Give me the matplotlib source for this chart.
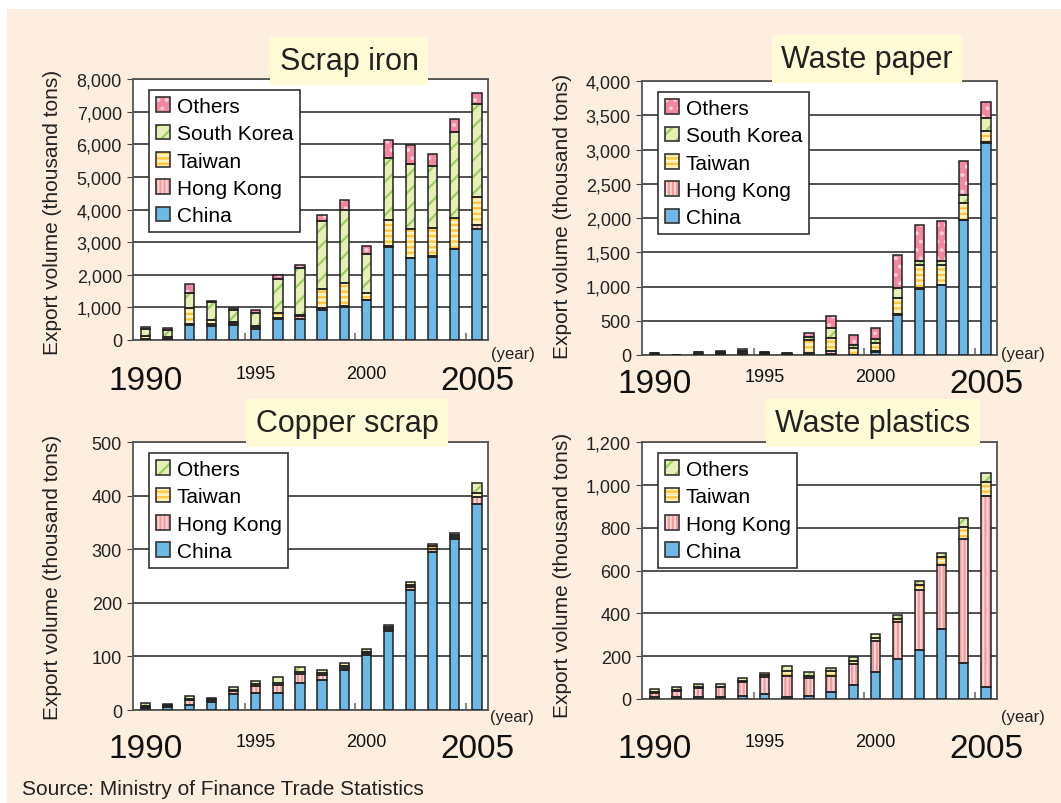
import matplotlib
matplotlib.use("Agg")
import matplotlib.pyplot as plt
from matplotlib.patches import Patch, Rectangle
from matplotlib.ticker import FuncFormatter

plt.rcParams['font.family'] = ['Liberation Sans', 'DejaVu Sans']
plt.rcParams['hatch.linewidth'] = 1.6

years = list(range(1990, 2006))

# Scrap iron (thousand tons)
iron_china = [10, 20, 450, 430, 450, 330, 630, 630, 920, 1020, 1220, 2860, 2500, 2550, 2780, 3410]
iron_hk = [10, 20, 50, 50, 80, 80, 50, 100, 50, 20, 20, 20, 20, 20, 20, 100]
iron_tw = [90, 40, 480, 130, 30, 20, 150, 50, 580, 710, 200, 790, 890, 860, 940, 880]
iron_sk = [230, 230, 450, 550, 360, 410, 1040, 1430, 2090, 2240, 1200, 1920, 1990, 1900, 2640, 2830]
iron_oth = [60, 50, 280, 30, 60, 80, 130, 100, 180, 310, 255, 540, 590, 360, 380, 360]

# Waste paper
paper_china = [5, 0, 0, 0, 0, 5, 5, 5, 20, 5, 50, 582, 961, 1019, 1966, 3097]
paper_hk = [5, 0, 5, 10, 10, 10, 5, 20, 40, 2, 10, 10, 10, 5, 5, 10]
paper_tw = [10, 0, 10, 20, 30, 15, 10, 195, 195, 97, 112, 243, 340, 291, 243, 170]
paper_sk = [5, 0, 30, 10, 20, 10, 5, 50, 145, 40, 63, 136, 58, 63, 126, 184]
paper_oth = [10, 0, 5, 20, 25, 10, 10, 50, 175, 145, 155, 495, 534, 582, 485, 238]

# Copper scrap
copper_china = [4, 6, 10, 15, 29, 32, 32, 51, 56, 75, 102, 147, 224, 294, 319, 384]
copper_hk = [2, 2, 8, 3, 6, 12, 14, 16, 9, 4, 4, 4, 6, 6, 4, 14]
copper_tw = [1, 2, 3, 2, 3, 5, 5, 4, 4, 4, 3, 3, 3, 6, 4, 6]
copper_oth = [6, 1, 6, 3, 5, 5, 10, 10, 6, 4, 4, 4, 6, 3, 4, 20]

# Waste plastics
plastic_china = [11, 11, 10, 10, 16, 23, 11, 16, 34, 65, 124, 187, 229, 327, 166, 58]
plastic_hk = [16, 25, 40, 44, 62, 82, 98, 82, 75, 98, 148, 171, 282, 300, 583, 888]
plastic_tw = [5, 8, 4, 3, 8, 6, 23, 11, 20, 16, 12, 16, 23, 34, 56, 68]
plastic_oth = [16, 14, 16, 11, 11, 12, 20, 16, 16, 16, 19, 19, 16, 23, 39, 39]

# face colour, hatch, hatch colour
styles = {
    "China": ("#6cb8e6", None, "#6cb8e6"),
    "Hong Kong": ("#ffd8d8", "||||", "#f59a9a"),
    "Taiwan": ("#fff2b8", "---", "#ffc43c"),
    "South Korea": ("#e6f0b4", "//", "#9ccc64"),
    "Others_pink": ("#f3879f", "..", "#ffd0dc"),
    "Others_green": ("#e6f0b4", "//", "#9ccc64"),
}

W, H = 1061, 804
fig = plt.figure(figsize=(W / 100, H / 100), dpi=100, facecolor="white")
fig.patches.append(Rectangle((7 / W, 0), 1, 1 - 10 / H, transform=fig.transFigure,
                             facecolor="#fdeee0", edgecolor="none", zorder=-10))


def px_axes(l, t, r, b):
    return fig.add_axes([l / W, 1 - b / H, (r - l) / W, (b - t) / H])


def draw_panel(box, series, ymax, ystep, title, title_xy, leg_xy, ylab_xy, year_xy, xpad):
    ax = px_axes(*box)
    bottom = [0] * len(years)
    handles = []
    for name, key, vals in series:
        fc, hatch, hc = styles[key]
        ax.bar(years, vals, 0.42, bottom=bottom, color=fc, hatch=hatch,
               edgecolor=hc, linewidth=0, zorder=2)
        ax.bar(years, vals, 0.42, bottom=bottom, fill=False,
               edgecolor="#222222", linewidth=1.1, zorder=3)
        bottom = [a + b for a, b in zip(bottom, vals)]
        handles.append((Patch(facecolor=fc, hatch=hatch, edgecolor=hc, linewidth=0),
                        Patch(fill=False, edgecolor="#333333", linewidth=1.2)))
    ax.set_xlim(1989.45, 2005.5)
    ax.set_ylim(0, ymax)
    ax.set_yticks(range(0, ymax + 1, ystep))
    ax.yaxis.set_major_formatter(FuncFormatter(lambda v, p: f"{int(v):,}"))
    ax.tick_params(axis="y", labelsize=13, length=4, pad=4, colors="#444444", labelcolor="#222222")
    ax.yaxis.grid(True, color="#333333", linewidth=1.2)
    ax.set_axisbelow(True)
    ax.set_xticks([1990, 1995, 2000, 2005])
    ax.set_xticklabels(["1990", "1995", "2000", "2005"])
    for lab, fs in zip(ax.get_xticklabels(), [24, 13, 13, 24]):
        lab.set_fontsize(fs)
    ax.tick_params(axis="x", length=0, pad=xpad, labelcolor="#111111")
    ax.set_xticks([1994.5, 1999.5, 2004.5], minor=True)
    ax.tick_params(axis="x", which="minor", direction="in", length=5, width=1.5, colors="#888888")
    for s in ax.spines.values():
        s.set_color("#555555")
        s.set_linewidth(1.3)
    leg = ax.legend(handles[::-1], [s[0] for s in series][::-1], loc="upper left",
                    bbox_to_anchor=(leg_xy[0] / W, 1 - leg_xy[1] / H),
                    bbox_transform=fig.transFigure, borderaxespad=0, fontsize=15,
                    fancybox=False, framealpha=1, edgecolor="#333333",
                    handlelength=0.7, handleheight=0.7, handletextpad=0.3,
                    labelspacing=0.4, borderpad=0.33)
    leg.get_frame().set_linewidth(1.2)
    fig.text(title_xy[0] / W, 1 - title_xy[1] / H, title, fontsize=22, ha="center",
             va="center", color="#222222",
             bbox=dict(boxstyle="square,pad=0.3", facecolor="#fffbd6", edgecolor="none"))
    fig.text(ylab_xy[0] / W, 1 - ylab_xy[1] / H, "Export volume (thousand tons)",
             rotation=90, fontsize=15, ha="center", va="center", color="#222222")
    fig.text(year_xy[0] / W, 1 - year_xy[1] / H, "(year)", fontsize=12,
             ha="left", va="center", color="#222222")
    return ax


draw_panel((133, 80, 488, 341),
           [("China", "China", iron_china), ("Hong Kong", "Hong Kong", iron_hk),
            ("Taiwan", "Taiwan", iron_tw), ("South Korea", "South Korea", iron_sk),
            ("Others", "Others_pink", iron_oth)],
           8000, 1000, "Scrap iron", (349, 62), (149, 91), (53, 212), (491, 355), 18)

draw_panel((642, 82, 997, 356),
           [("China", "China", paper_china), ("Hong Kong", "Hong Kong", paper_hk),
            ("Taiwan", "Taiwan", paper_tw), ("South Korea", "South Korea", paper_sk),
            ("Others", "Others_pink", paper_oth)],
           4000, 500, "Waste paper", (867, 60), (658, 93), (562, 216), (1001, 355), 9.5)

draw_panel((133, 443, 488, 711),
           [("China", "China", copper_china), ("Hong Kong", "Hong Kong", copper_hk),
            ("Taiwan", "Taiwan", copper_tw), ("Others", "Others_green", copper_oth)],
           500, 100, "Copper scrap", (347, 424), (149, 454), (53, 577), (490, 718), 16.5)

draw_panel((642, 443, 997, 700),
           [("China", "China", plastic_china), ("Hong Kong", "Hong Kong", plastic_hk),
            ("Taiwan", "Taiwan", plastic_tw), ("Others", "Others_green", plastic_oth)],
           1200, 200, "Waste plastics", (873, 424), (658, 454), (562, 575), (1001, 718), 24.5)

fig.text(22 / W, 1 - 790 / H, "Source: Ministry of Finance Trade Statistics",
         fontsize=15, ha="left", va="center", color="#222222")

fig.savefig("out.png", dpi=100, facecolor=fig.get_facecolor())
